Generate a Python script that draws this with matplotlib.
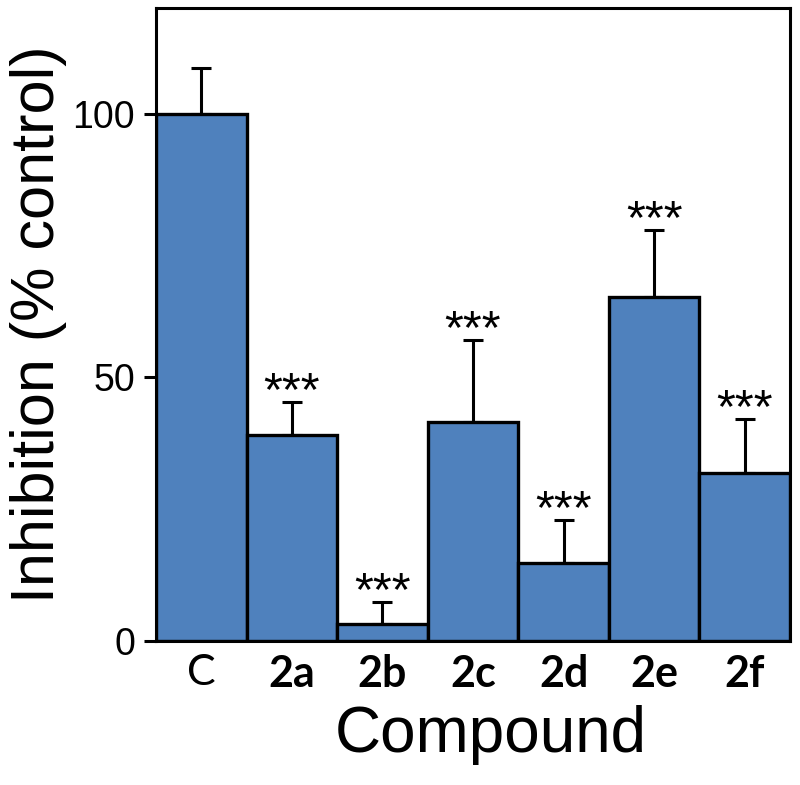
import matplotlib
matplotlib.use('Agg')
import matplotlib.pyplot as plt
import numpy as np

# data
compounds = ['C', '2a', '2b', '2c', '2d', '2e', '2f']
inhibition = [100, 39.0, 3.2, 41.6, 14.8, 65.2, 31.9]
err_upper = [8.6, 6.3, 4.2, 15.5, 8.1, 12.8, 10.2]
signif = ['', '***', '***', '***', '***', '***', '***']

bar_color = '#4F81BD'

fig = plt.figure(figsize=(8, 7.85), dpi=100)
ax = fig.add_axes([0.195, 0.1834, 0.7925, 0.8064])

x = np.arange(len(compounds))
ax.bar(x, inhibition, width=1.0, color=bar_color, edgecolor='black', linewidth=2.4, zorder=2)
ax.errorbar(x, inhibition, yerr=[np.zeros(len(x)), err_upper], fmt='none',
            ecolor='black', elinewidth=2.2, capsize=7, capthick=2.2, zorder=1)

# significance stars above the error bars
for xi, v, e, s in zip(x, inhibition, err_upper, signif):
    if s:
        ax.text(xi, v + e - 0.6, s, ha='center', va='baseline',
                fontsize=35, family='Liberation Sans')

ax.set_xlim(-0.5, 6.5)
ax.set_ylim(0, 120)
ax.set_yticks([0, 50, 100])
ax.set_yticklabels(['0', '50', '100'], family='Liberation Sans', fontsize=27)
ax.set_xticks(x)
ax.set_xticklabels(compounds, family='Lato', fontsize=31)
for lbl in ax.get_xticklabels()[1:]:
    lbl.set_fontweight('bold')

ax.tick_params(axis='y', direction='out', length=9, width=2.2, pad=6)
ax.tick_params(axis='x', length=0, pad=9)

for sp in ax.spines.values():
    sp.set_linewidth(2.2)

ax.set_xlabel('Compound', family='Liberation Sans', fontsize=46, labelpad=8)
ax.xaxis.label.set_x(0.528)
ax.set_ylabel('Inhibition (% control)', family='Liberation Sans', fontsize=44, labelpad=4)

fig.savefig('out.png', dpi=100)
